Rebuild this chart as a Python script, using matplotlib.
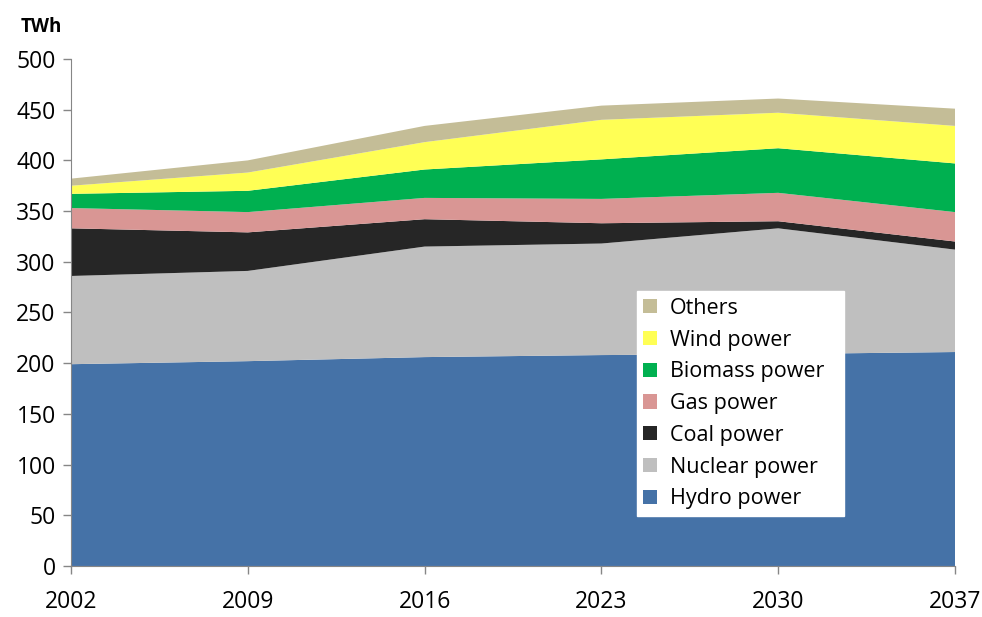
import matplotlib.pyplot as plt
from matplotlib.patches import Patch

years = [2002, 2009, 2016, 2023, 2030, 2037]
hydro = [199, 202, 206, 208, 209, 211]
nuclear = [87, 89, 109, 110, 124, 101]
coal = [47, 38, 27, 20, 7, 8]
gas = [20, 20, 21, 24, 28, 29]
biomass = [14, 21, 28, 39, 44, 48]
wind = [8, 18, 27, 39, 35, 37]
others = [7, 12, 16, 14, 14, 17]

labels = ["Hydro power", "Nuclear power", "Coal power", "Gas power",
          "Biomass power", "Wind power", "Others"]
colors = ["#4572A7", "#BFBFBF", "#262626", "#D99694",
          "#00B050", "#FFFF55", "#C4BD97"]

plt.rcParams['font.family'] = ['Open Sans', 'DejaVu Sans']

fig = plt.figure(figsize=(9.82, 6.17), dpi=100)
ax = fig.add_axes([0.0723, 0.0827, 0.9002, 0.8217])

ax.stackplot(years, hydro, nuclear, coal, gas, biomass, wind, others,
             colors=colors, linewidth=0)

ax.set_xlim(2002, 2037)
ax.set_ylim(0, 500)
ax.set_xticks(years)
ax.set_yticks(range(0, 501, 50))
ax.tick_params(axis='both', labelsize=16.5, color='#868686', length=6, width=1)
ax.tick_params(axis='x', pad=11)
ax.tick_params(axis='y', pad=5)
for side in ['top', 'right']:
    ax.spines[side].set_visible(False)
for side in ['left', 'bottom']:
    ax.spines[side].set_color('#868686')

fig.text(0.021, 0.948, "TWh", fontsize=13.5, fontweight='bold')

handles = [Patch(facecolor=c, edgecolor='none', label=l)
           for c, l in zip(colors, labels)][::-1]
leg = ax.legend(handles=handles, loc='lower left',
                bbox_to_anchor=(0.640, 0.099, 0.235, 0.446), mode='expand',
                fontsize=15.5, frameon=True, fancybox=False,
                handlelength=0.65, handleheight=0.65, handletextpad=0.6,
                labelspacing=0.5, borderpad=0.3, borderaxespad=0)
leg.get_frame().set_edgecolor('white')
leg.get_frame().set_alpha(1)

fig.savefig("out.png", dpi=100)
